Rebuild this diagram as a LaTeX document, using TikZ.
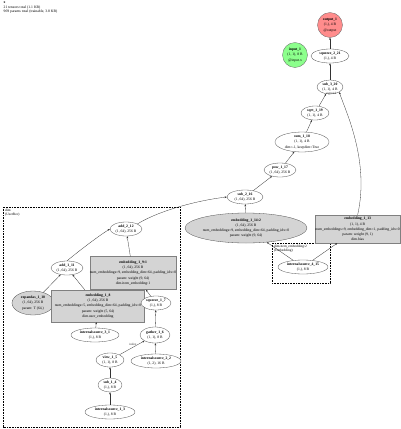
\documentclass[tikz,border=0pt]{standalone}
\usepackage{fontspec}
\setmainfont{Liberation Serif}
\usetikzlibrary{shapes.geometric,arrows.meta}
\begin{document}
\begin{tikzpicture}[x=1pt,y=-1pt,
  every node/.style={font=\fontsize{3.7}{5.2}\selectfont, align=center, inner sep=0.5pt},
  ell/.style={ellipse, draw=black!70, line width=0.3pt, fill=white, inner sep=0pt},
  gell/.style={ell, fill=black!17},
  gbox/.style={rectangle, draw=black!50, line width=0.3pt, fill=black!17, inner sep=0pt},
  circ/.style={circle, draw=black!60, line width=0.3pt, inner sep=0pt, minimum size=25pt},
  edge/.style={-{Stealth[length=2.2pt,width=1.7pt]}, line width=0.3pt, black!80},
  clus/.style={draw=black, line width=1pt, dash pattern=on 1pt off 0.6pt},
  clab/.style={anchor=north west, align=left, font=\fontsize{3.5}{4}\selectfont},
  elab/.style={font=\fontsize{3.2}{3.6}\selectfont}
]
\useasboundingbox (0,0) rectangle (400,429);
% header
\node[anchor=north west, align=left, font=\fontsize{3.7}{4.6}\selectfont] (hdr) at (3,1) {\textbf{x}\\21 tensors total (1.1 KB)\\969 params total (trainable, 3.8 KB)};

% clusters
\draw[clus] (3,207) rectangle (180,427);
\draw[clus] (272,243) rectangle (330,283);

% nodes
\node[circ, fill=red!45] (out) at (330,25) {\textbf{output\_1}\\(1,), 4 B\\@output};
\node[circ, fill=green!45] (inp) at (295,55) {\textbf{input\_1}\\(1, 1), 8 B\\@input.x};
\node[ell, minimum width=38pt, minimum height=14pt] (sq2) at (330,56) {\textbf{squeeze\_2\_21}\\(1,), 4 B};
\node[ell, minimum width=26pt, minimum height=14pt] (sub3) at (330,87) {\textbf{sub\_3\_20}\\(1, 1), 4 B};
\node[ell, minimum width=28pt, minimum height=14pt] (sqrt) at (315,113) {\textbf{sqrt\_1\_19}\\(1, 1), 4 B};
\node[ell, minimum width=54pt, minimum height=20pt] (sum) at (302,142) {\textbf{sum\_1\_18}\\(1, 1), 4 B\\dim=-1, keepdim=True};
\node[ell, minimum width=32pt, minimum height=14pt] (pow) at (280,170) {\textbf{pow\_1\_17}\\(1, 64), 256 B};
\node[ell, minimum width=36pt, minimum height=14pt] (sub2) at (245,197) {\textbf{sub\_2\_16}\\(1, 64), 256 B};
\node[gell, minimum width=122pt, minimum height=30pt] (emb14) at (246,228) {\textbf{embedding\_1\_14:2}\\(1, 64), 256 B\\num\_embeddings=9, embedding\_dim=64, padding\_idx=0\\param: weight (9, 64)};
\node[gbox, minimum width=85pt, minimum height=28pt, anchor=west] (emb13) at (315,229) {\textbf{embedding\_1\_13}\\(1, 1), 4 B\\num\_embeddings=9, embedding\_dim=1, padding\_idx=0\\param: weight (9, 1)\\dim.bias};
\node[ell, minimum width=50pt, minimum height=14pt] (is4) at (303,267) {\textbf{internalsource\_4\_15}\\(1,), 8 B};

\node[ell, minimum width=32pt, minimum height=14pt] (add2) at (126,229) {\textbf{add\_2\_12}\\(1, 64), 256 B};
\node[ell, minimum width=32pt, minimum height=14pt] (add1) at (67,268) {\textbf{add\_1\_11}\\(1, 64), 256 B};
\node[gbox, minimum width=86pt, minimum height=33pt] (emb9) at (133,273) {\textbf{embedding\_1\_9:1}\\(1, 64), 256 B\\num\_embeddings=9, embedding\_dim=64, padding\_idx=0\\param: weight (9, 64)\\dim.item\_embedding:1};
\node[gell, minimum width=42pt, minimum height=24pt] (exp) at (33,303) {\textbf{expandas\_1\_10}\\(1, 64), 256 B\\param: T (64,)};
\node[gbox, minimum width=93pt, minimum height=32pt] (emb8) at (98,306) {\textbf{embedding\_1\_8}\\(1, 64), 256 B\\num\_embeddings=5, embedding\_dim=64, padding\_idx=0\\param: weight (5, 64)\\dim.user\_embedding};
\node[ell, minimum width=30pt, minimum height=14pt] (sq1) at (156,303) {\textbf{squeeze\_1\_7}\\(1,), 8 B};
\node[ell, minimum width=48pt, minimum height=14pt] (is3) at (95,335) {\textbf{internalsource\_3\_1}\\(1,), 8 B};
\node[ell, minimum width=30pt, minimum height=16pt] (gat) at (155,335) {\textbf{gather\_1\_6}\\(1, 1), 8 B};
\node[ell, minimum width=28pt, minimum height=14pt] (view) at (110,360) {\textbf{view\_1\_5}\\(1, 1), 8 B};
\node[ell, minimum width=50pt, minimum height=14pt] (is2) at (156,361) {\textbf{internalsource\_2\_2}\\(1, 2), 16 B};
\node[ell, minimum width=24pt, minimum height=14pt] (sub1) at (110,385) {\textbf{sub\_1\_4}\\(1,), 8 B};
\node[ell, minimum width=50pt, minimum height=14pt] (is1) at (110,412) {\textbf{internalsource\_1\_3}\\(1,), 8 B};

% cluster labels
\node[clab] (c1lab) at (4.5,208.8) {dim\\(UserRec)};
\node[clab] (c2lab) at (273.5,244.8) {dim.item\_embedding:2\\(Embedding)};

% edges
\draw[edge] (sq2) -- (out);
\draw[edge] (sub3) -- (sq2);
\draw[edge] (sqrt) -- (sub3);
\draw[edge] (emb13.north) .. controls (370,160) and (345,110) .. (sub3.south east) node[elab, pos=0.97, left=3pt] (lab1) {sigmoid};
\draw[edge] (sum) -- (sqrt);
\draw[edge] (pow) -- (sum);
\draw[edge] (sub2) -- (pow);
\draw[edge] (emb14) -- (sub2);
\draw[edge] (add2.north east) .. controls (160,210) and (200,200) .. (sub2.west);
\draw[edge] (is4) -- (emb14);
\draw[edge] (is4) -- (emb13);
\draw[edge] (add1.north) .. controls (80,250) and (100,235) .. (add2.west);
\draw[edge] (emb9) -- (add2);
\draw[edge] (exp) -- (add1);
\draw[edge] (emb8) -- (add1);
\draw[edge] (sq1) -- (emb9);
\draw[edge] (is3) -- (emb8);
\draw[edge] (gat) -- (sq1);
\draw[edge] (view) -- (gat) node[elab, pos=0.75, left=1pt] (lab2) {index};
\draw[edge] (is2) -- (gat);
\draw[edge] (sub1) -- (view);
\draw[edge] (is1) -- (sub1);
\end{tikzpicture}
\end{document}
